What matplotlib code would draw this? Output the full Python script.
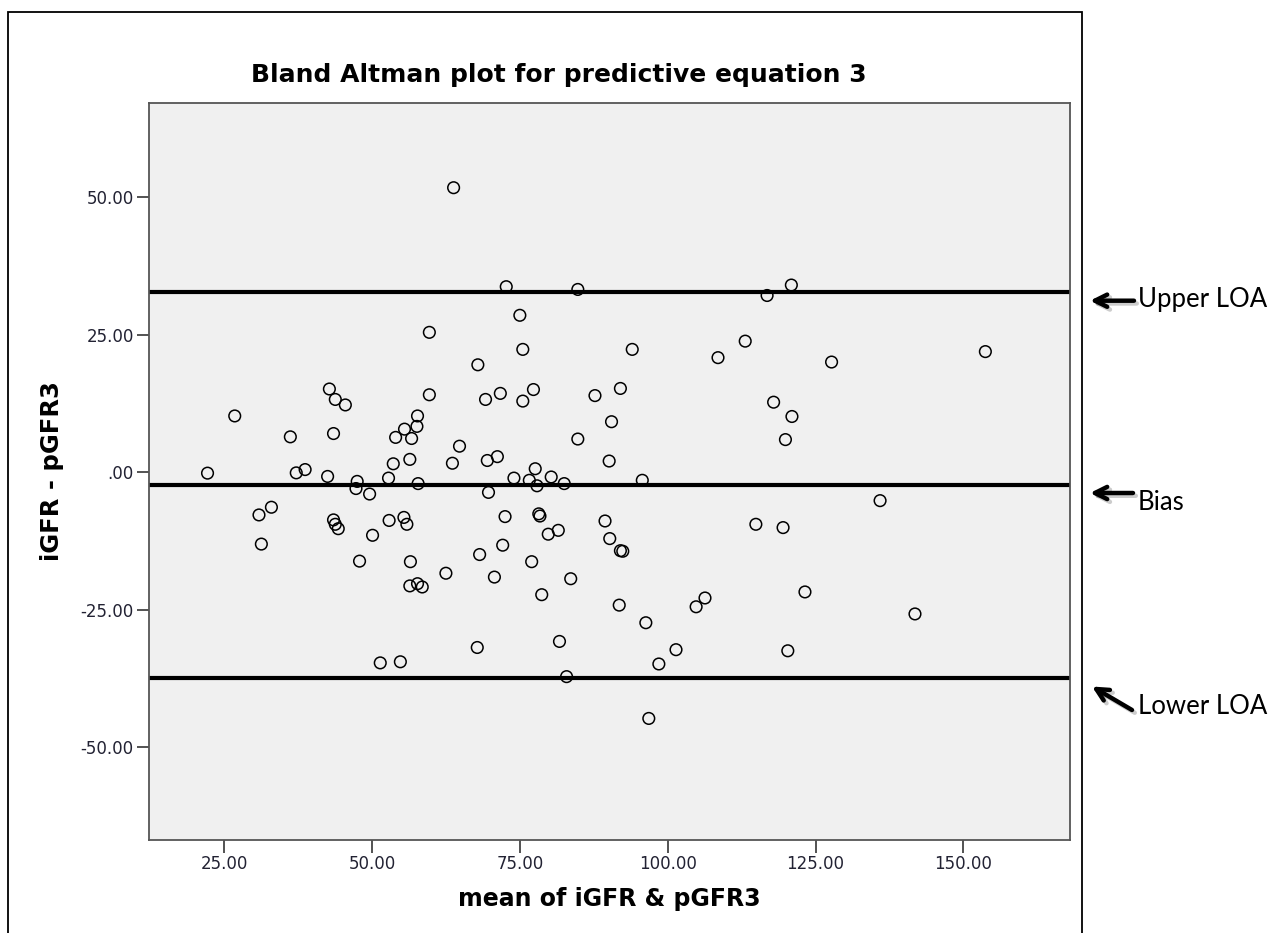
import matplotlib
matplotlib.use("Agg")
import matplotlib.pyplot as plt
import matplotlib.patches as patches
import matplotlib.patheffects as pe

# values
mean_gfr = [63.8, 59.7, 42.8, 43.8, 45.5, 59.7, 26.8, 36.2, 43.5, 57.7,
            55.5, 57.6, 54.0, 56.7, 64.8, 53.6, 56.4, 63.6, 22.2, 37.2,
            38.7, 42.5, 47.5, 52.8, 57.8, 47.3, 49.6, 33.0, 30.9, 31.3,
            43.5, 43.8, 44.3, 50.1, 52.9, 55.4, 55.9, 47.9, 56.5, 62.5,
            56.4, 57.7, 58.5, 51.4, 54.8, 72.7, 84.8, 75.0, 75.5, 94.0,
            67.9, 108.5, 113.1, 69.2, 71.7, 75.5, 77.3, 87.7, 92.0, 90.5,
            84.8, 69.5, 71.2, 90.1, 77.6, 74.0, 76.6, 80.3, 95.7, 82.5,
            77.9, 69.7, 72.5, 78.2, 78.4, 79.8, 81.5, 72.1, 68.2, 77.0,
            70.7, 83.6, 78.7, 89.4, 90.2, 92.0, 92.4, 114.9, 91.8, 96.3,
            104.8, 106.3, 67.8, 81.7, 101.4, 98.5, 82.9, 96.8, 120.9, 116.8,
            127.7, 153.7, 117.9, 121.0, 119.9, 135.9, 119.5, 123.2, 141.8, 120.3]
diff_gfr = [51.7, 25.4, 15.1, 13.2, 12.2, 14.05, 10.2, 6.4, 7.0, 10.2,
            7.8, 8.3, 6.3, 6.1, 4.7, 1.5, 2.3, 1.6, -0.2, -0.15,
            0.45, -0.8, -1.7, -1.1, -2.1, -3.0, -4.0, -6.4, -7.8, -13.1,
            -8.7, -9.5, -10.3, -11.5, -8.8, -8.25, -9.5, -16.2, -16.3, -18.4,
            -20.7, -20.3, -20.9, -34.7, -34.5, 33.7, 33.2, 28.5, 22.3, 22.3,
            19.5, 20.8, 23.8, 13.2, 14.3, 12.9, 15.0, 13.9, 15.2, 9.15,
            6.0, 2.1, 2.8, 2.0, 0.6, -1.1, -1.5, -0.9, -1.5, -2.1,
            -2.5, -3.7, -8.1, -7.6, -8.0, -11.3, -10.6, -13.3, -15.0, -16.3,
            -19.1, -19.4, -22.3, -8.9, -12.1, -14.3, -14.4, -9.5, -24.2, -27.4,
            -24.5, -22.9, -31.9, -30.8, -32.3, -34.9, -37.2, -44.8, 34.0, 32.1,
            20.0, 21.9, 12.7, 10.1, 5.9, -5.2, -10.1, -21.8, -25.8, -32.5]

bias = -2.4
upper_loa = 32.65
lower_loa = -37.4

x_ticks = [25, 50, 75, 100, 125, 150]
x_tick_labels = ["25.00", "50.00", "75.00", "100.00", "125.00", "150.00"]
y_ticks = [-50, -25, 0, 25, 50]
y_tick_labels = ["-50.00", "-25.00", ".00", "25.00", "50.00"]

line_names = ["Upper LOA", "Bias", "Lower LOA"]

fig = plt.figure(figsize=(12.82, 9.33), dpi=100)
ax = fig.add_axes([0.1162, 0.0997, 0.7184, 0.7899])
ax.set_facecolor("#f0f0f0")

ax.scatter(mean_gfr, diff_gfr, s=70, facecolors="none", edgecolors="black",
           linewidths=1.1, zorder=3)
for yv in [upper_loa, bias, lower_loa]:
    ax.axhline(yv, color="black", lw=3.0, zorder=2)

ax.set_xlim(12.3, 168.0)
ax.set_ylim(-66.9, 67.1)
ax.set_xticks(x_ticks)
ax.set_xticklabels(x_tick_labels)
ax.set_yticks(y_ticks)
ax.set_yticklabels(y_tick_labels)
ax.tick_params(direction="out", length=9, width=1.3, color="#444444",
               labelsize=12, labelcolor="#222233", pad=2)
for s in ax.spines.values():
    s.set_color("#555555")
    s.set_linewidth(1.3)

ax.set_xlabel("mean of iGFR & pGFR3", fontsize=17, fontweight="bold", labelpad=10)
ax.set_ylabel("iGFR - pGFR3", fontsize=17.5, fontweight="bold", labelpad=12)
fig.text(559 / 1282, 1 - 75 / 933, "Bland Altman plot for predictive equation 3",
         ha="center", va="center", fontsize=18, fontweight="bold")

# outer frame round the chart
fig.patches.append(patches.Rectangle((7.5 / 1282, -0.01), (1081.5 - 7.5) / 1282,
                                     1 - 12 / 933 + 0.01, transform=fig.transFigure,
                                     fill=False, edgecolor="black", lw=1.3))

# annotation arrows outside the frame
shadow = [pe.SimpleLineShadow(offset=(2, -2), alpha=0.2), pe.Normal()]
text_y = [300, 502, 707]
arrow_tip = [(1090, 300.7), (1090, 493), (1092, 686.5)]
arrow_tail = [(1134, 300.7), (1133, 493), (1132, 710)]
for name, ty, tip, tail in zip(line_names, text_y, arrow_tip, arrow_tail):
    ax.annotate("", xy=(tip[0] / 1282, 1 - tip[1] / 933), xycoords="figure fraction",
                xytext=(tail[0] / 1282, 1 - tail[1] / 933), textcoords="figure fraction",
                arrowprops=dict(arrowstyle="->", lw=3.2, color="black",
                                mutation_scale=22, shrinkA=0, shrinkB=0,
                                path_effects=shadow))
    fig.text(1138 / 1282, 1 - ty / 933, name, ha="left", va="center",
             fontsize=18.5, family="Lato")

fig.savefig("out.png", dpi=100)
